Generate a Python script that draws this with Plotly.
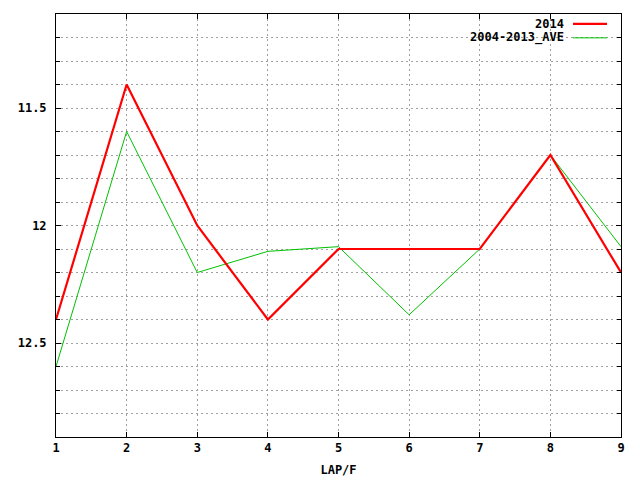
import plotly.graph_objects as go

laps = [1, 2, 3, 4, 5, 6, 7, 8, 9]
y2014 = [12.4, 11.4, 12.0, 12.4, 12.1, 12.1, 12.1, 11.7, 12.2]
yave = [12.6, 11.6, 12.2, 12.11, 12.09, 12.38, 12.1, 11.7, 12.09]
ytick_vals = [11.5, 12.0, 12.5]
ytick_text = ["11.5", "12", "12.5"]
series_names = ["2014", "2004-2013_AVE"]

FONT = dict(family="DejaVu Sans Mono", size=12, color="black", weight="bold")
GRID = "#a0a0a0"
DASH = "2px,3px"

fig = go.Figure()
fig.add_trace(go.Scatter(x=laps, y=yave, mode="lines", name=series_names[1],
                         line=dict(color="#00c000", width=1)))
fig.add_trace(go.Scatter(x=laps, y=y2014, mode="lines", name=series_names[0],
                         line=dict(color="#ff0000", width=2.2)))

# page body has an 8px margin: shrink figure & margins to compensate
fig.update_layout(
    width=632, height=472,
    margin=dict(l=48, r=19, t=5, b=41),
    paper_bgcolor="white", plot_bgcolor="white",
    showlegend=False,
    font=FONT,
)
fig.update_xaxes(
    range=[1, 9], tick0=1, dtick=1,
    showgrid=True, gridcolor=GRID, griddash=DASH, gridwidth=1,
    showline=True, linecolor="black", linewidth=1, mirror="ticks",
    ticks="inside", ticklen=5, tickcolor="black",
    tickfont=FONT, zeroline=False,
    title=dict(text="LAP/F", font=FONT, standoff=11),
)
fig.update_yaxes(
    range=[12.9, 11.1],
    tickvals=ytick_vals, ticktext=ytick_text,
    showgrid=True, gridcolor=GRID, griddash=DASH, gridwidth=1,
    showline=True, linecolor="black", linewidth=1, mirror="ticks",
    ticks="inside", ticklen=5, tickcolor="black",
    tickfont=FONT, zeroline=False, ticklabelstandoff=6,
    minor=dict(tick0=11.1, dtick=0.1, ticks="inside", ticklen=4, tickcolor="black",
               showgrid=True, gridcolor=GRID, griddash=DASH, gridwidth=1),
)

# gnuplot-style key: right-aligned text, sample line on the right
# plot area spans x 56..621 (565px), y 13..439 (426px) in the page
legend_rows = [(series_names[0], "#ff0000", 2.2, 1 - 10 / 426), (series_names[1], "#00c000", 1, 1 - 24 / 426)]
for name, color, w, yp in legend_rows:
    fig.add_annotation(xref="paper", yref="paper", x=(566 - 56) / 565, y=yp, text=name,
                       showarrow=False, xanchor="right", yanchor="middle", font=FONT)
    fig.add_shape(type="line", xref="paper", yref="paper", x0=(573 - 56) / 565, x1=(607 - 56) / 565,
                  y0=yp, y1=yp, line=dict(color=color, width=w))

fig.write_html("out.html")
